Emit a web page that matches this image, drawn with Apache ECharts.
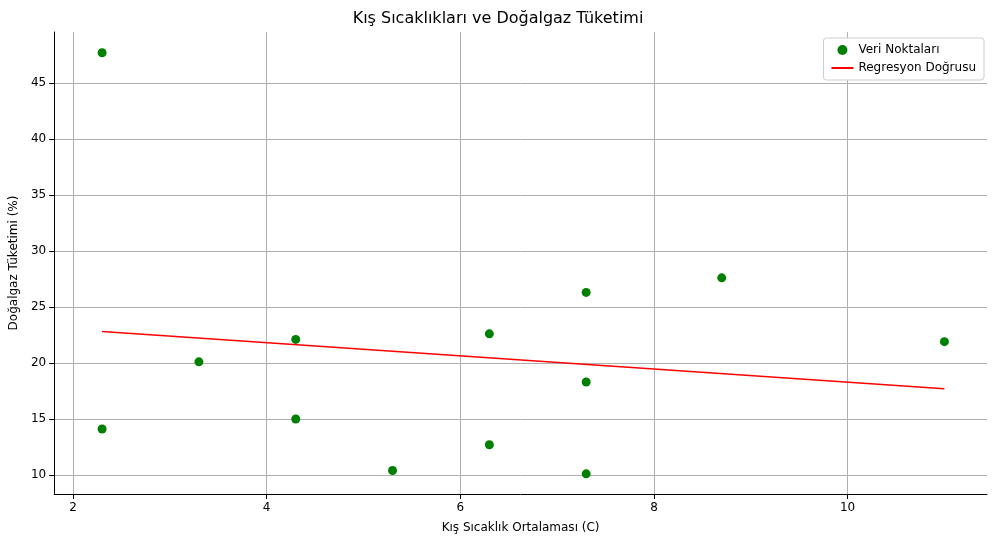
<!DOCTYPE html>
<html lang="tr">
<head>
<meta charset="UTF-8">
<title>Kış Sıcaklıkları ve Doğalgaz Tüketimi</title>
<style>html,body{margin:0;background:#fff}</style>
</head>
<body>
<div id="chart" style="width:996px;height:547px;"></div>
<script src="https://cdn.jsdelivr.net/npm/echarts@6/dist/echarts.min.js"></script>
<script>
var temps = [2.3, 2.3, 3.3, 4.3, 4.3, 5.3, 6.3, 6.3, 7.3, 7.3, 7.3, 8.7, 11.0];
var usage = [47.7, 14.1, 20.1, 22.1, 15.0, 10.4, 22.6, 12.7, 26.3, 18.3, 10.1, 27.6, 21.9];
var lineX = [2.3, 11.0];
var lineY = [22.8, 17.7];
var xTicks = [2, 4, 6, 8, 10];
var yTicks = [10, 15, 20, 25, 30, 35, 40, 45];

var pts = temps.map(function (t, i) { return [t, usage[i]]; });
var linePts = lineX.map(function (t, i) { return [t, lineY[i]]; });
var font = 'DejaVu Sans';

var chart = echarts.init(document.getElementById('chart'));
chart.setOption({
  animation: false,
  textStyle: { fontFamily: font },
  title: { text: 'Kış Sıcaklıkları ve Doğalgaz Tüketimi', left: 'center', top: 6,
    textStyle: { fontFamily: font, fontSize: 16, fontWeight: 'normal', color: '#000' } },
  legend: {
    right: 12, top: 38, orient: 'vertical', itemGap: 6, itemWidth: 22, itemHeight: 10,
    borderColor: '#ccc', borderWidth: 1, borderRadius: 3, padding: [6, 8],
    backgroundColor: '#fff',
    textStyle: { fontFamily: font, fontSize: 12, color: '#000' },
    data: [{ name: 'Veri Noktaları', icon: 'circle' },
           { name: 'Regresyon Doğrusu', icon: 'path://M0,9L22,9L22,11L0,11Z' }]
  },
  grid: { left: 51, right: 9, top: 32, bottom: 53 },
  xAxis: {
    type: 'value', min: 1.805, max: 11.44,
    name: 'Kış Sıcaklık Ortalaması (C)', nameLocation: 'middle', nameGap: 28,
    nameTextStyle: { fontSize: 12, color: '#000' },
    axisLine: { lineStyle: { color: '#000' } },
    axisTick: { show: true, customValues: xTicks, lineStyle: { color: '#000' } },
    axisLabel: { color: '#000', fontSize: 12, customValues: xTicks },
    splitLine: { show: true, lineStyle: { color: '#b0b0b0' } }
  },
  yAxis: {
    type: 'value', min: 8.3, max: 49.55,
    name: 'Doğalgaz Tüketimi (%)', nameLocation: 'middle', nameGap: 34, nameRotate: 90,
    nameTextStyle: { fontSize: 12, color: '#000' },
    axisLine: { show: true, lineStyle: { color: '#000' } },
    axisTick: { show: true, customValues: yTicks, lineStyle: { color: '#000' } },
    axisLabel: { color: '#000', fontSize: 12, customValues: yTicks },
    splitLine: { show: true, lineStyle: { color: '#b0b0b0' } }
  },
  series: [
    { name: 'Veri Noktaları', type: 'scatter', data: pts, symbolSize: 9,
      itemStyle: { color: '#008000', opacity: 1 } },
    { name: 'Regresyon Doğrusu', type: 'line', data: linePts, showSymbol: false,
      lineStyle: { color: '#ff0000', width: 1.5 }, itemStyle: { color: '#ff0000' } }
  ]
});
</script>
</body>
</html>
